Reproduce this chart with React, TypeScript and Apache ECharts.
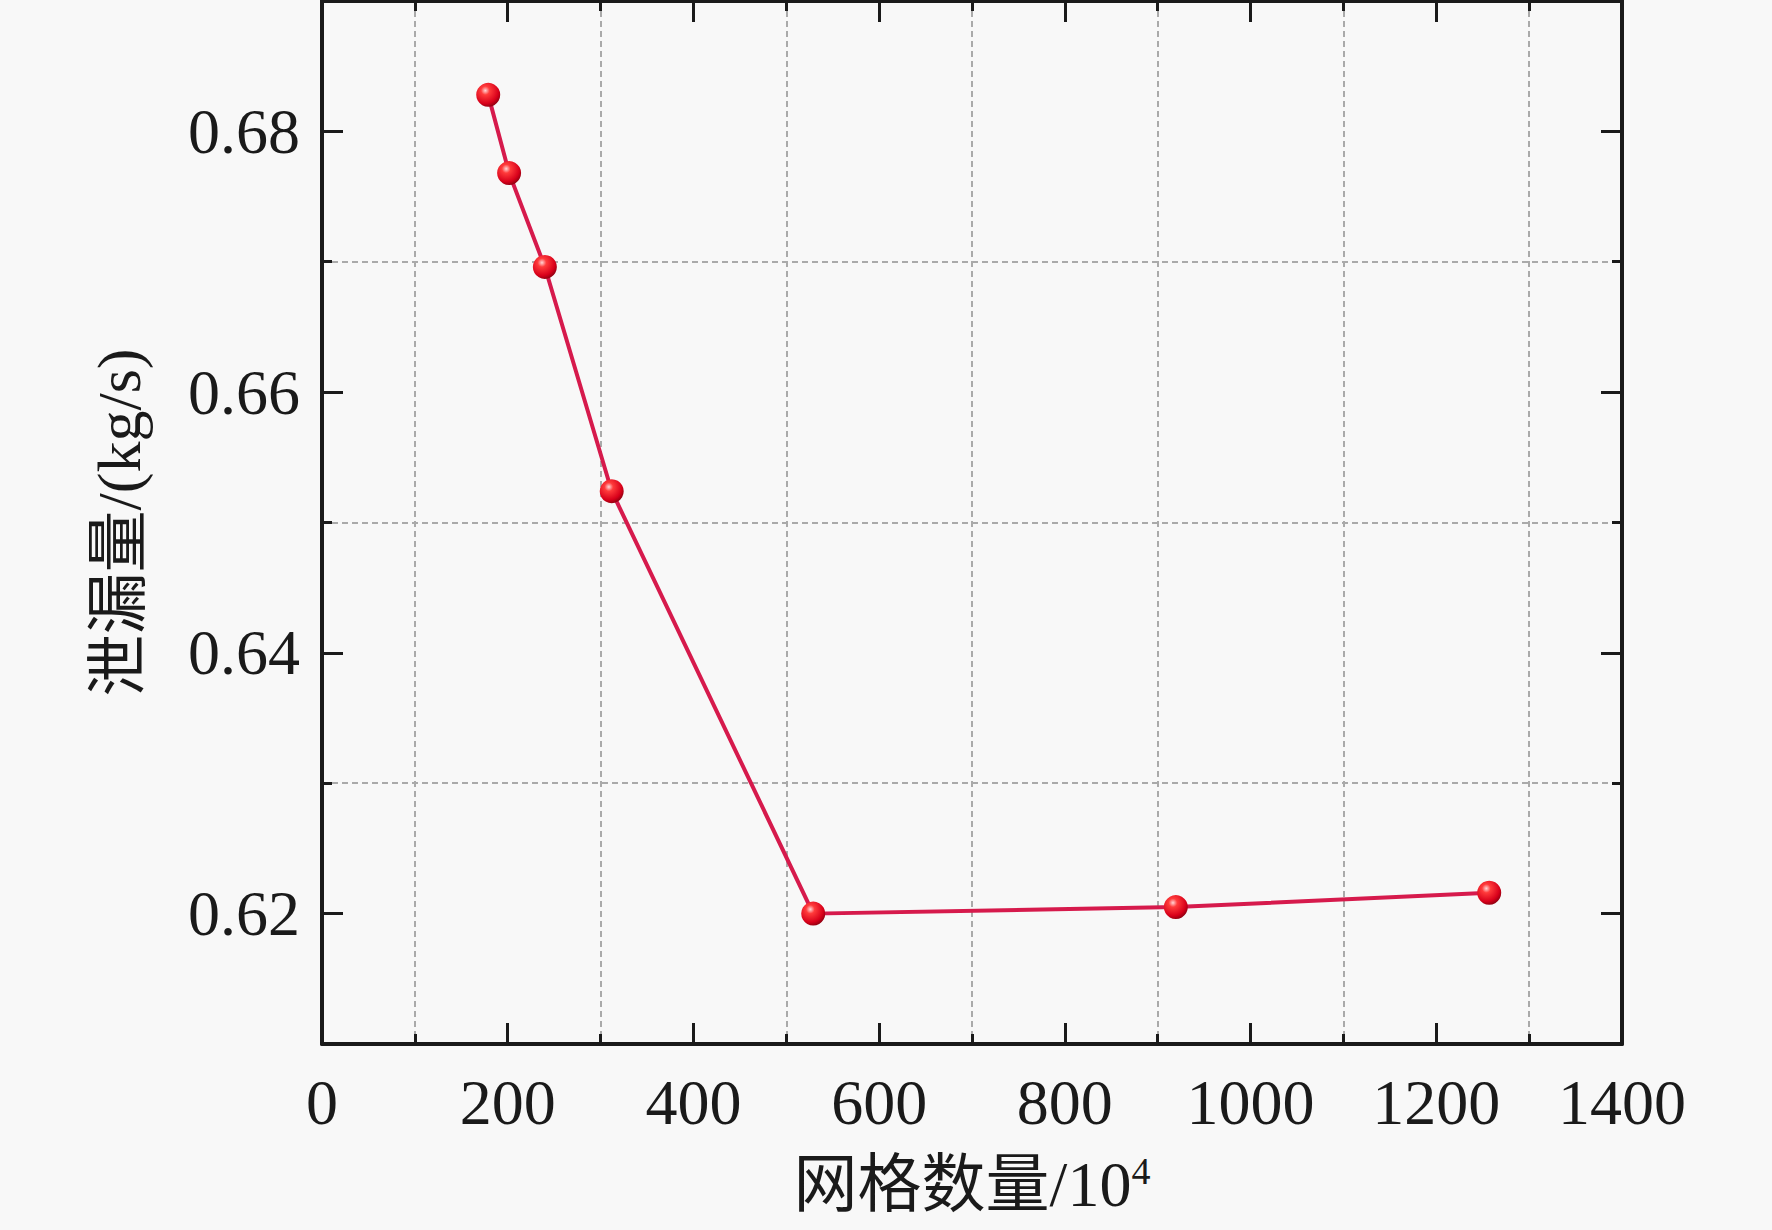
import React, { useEffect, useRef } from "react";
import * as echarts from "echarts";

const gridCounts = [179, 201.5, 240, 312, 529, 919.5, 1257];
const leakage = [0.6828, 0.6768, 0.6696, 0.6524, 0.62, 0.6205, 0.6216];
const xRange = [0, 1400];
const yRange = [0.61, 0.69];
const xTitle = "网格数量/10";
const xTitleSup = "4";
const yTitle = "泄漏量/(kg/s)";

const FONT = "'Liberation Serif', 'Noto Sans CJK SC', serif";
const INK = "#1a1a1a";

export default function App() {
  const ref = useRef<HTMLDivElement>(null);
  useEffect(() => {
    if (!ref.current) return;
    const chart = echarts.init(ref.current, undefined, { renderer: "svg" });
    const axisLine = { show: true, onZero: false, lineStyle: { color: INK, width: 4 } };
    const majorTick = { show: true, inside: true, length: 21, lineStyle: { color: INK, width: 3 } };
    const minorTick = { show: true, splitNumber: 2, length: 10, lineStyle: { color: INK, width: 3 } };
    const minorGrid = {
      show: true,
      lineStyle: { color: "#aaaaaa", width: 2, type: [6, 4] as any },
    };
    const data = gridCounts.map((x, i) => [x, leakage[i]]);
    chart.setOption({
      animation: false,
      backgroundColor: "#f8f8f8",
      grid: { left: 322, right: 150, top: 1, bottom: 186, containLabel: false },
      xAxis: [
        {
          type: "value",
          min: xRange[0],
          max: xRange[1],
          interval: 200,
          position: "bottom",
          axisLine,
          axisTick: majorTick,
          minorTick: { ...minorTick },
          splitLine: { show: false },
          minorSplitLine: minorGrid,
          axisLabel: {
            show: true,
            margin: 26,
            fontSize: 64,
            fontFamily: FONT,
            color: INK,
            formatter: (v: number) => String(v),
          },
          name: `{a|${xTitle}}{s|${xTitleSup}}`,
          nameLocation: "middle",
          nameGap: 108,
          nameTextStyle: {
            rich: {
              a: { fontSize: 64, fontFamily: FONT, color: INK },
              s: { fontSize: 38, fontFamily: FONT, color: INK, verticalAlign: "top" },
            },
          },
        },
        {
          type: "value",
          min: xRange[0],
          max: xRange[1],
          interval: 200,
          position: "top",
          axisLine,
          axisTick: majorTick,
          minorTick: { ...minorTick },
          splitLine: { show: false },
          axisLabel: { show: false },
        },
      ],
      yAxis: [
        {
          type: "value",
          min: yRange[0],
          max: yRange[1],
          splitNumber: 4,
          position: "left",
          axisLine,
          axisTick: majorTick,
          minorTick: { ...minorTick },
          splitLine: { show: false },
          minorSplitLine: minorGrid,
          axisLabel: {
            show: true,
            margin: 22,
            fontSize: 64,
            fontFamily: FONT,
            color: INK,
            showMinLabel: false,
            showMaxLabel: false,
            formatter: (v: number) => v.toFixed(2),
          },
          name: yTitle,
          nameLocation: "middle",
          nameGap: 172,
          nameTextStyle: { fontSize: 62, fontFamily: FONT, color: INK },
        },
        {
          type: "value",
          min: yRange[0],
          max: yRange[1],
          splitNumber: 4,
          position: "right",
          axisLine,
          axisTick: majorTick,
          minorTick: { ...minorTick },
          splitLine: { show: false },
          axisLabel: { show: false },
        },
      ],
      series: [
        {
          type: "line",
          xAxisIndex: 0,
          yAxisIndex: 0,
          data,
          symbol: "circle",
          symbolSize: 24,
          lineStyle: { color: "#d61a4c", width: 4 },
          itemStyle: {
            color: {
              type: "radial",
              x: 0.38,
              y: 0.32,
              r: 0.72,
              colorStops: [
                { offset: 0, color: "#ffd6d6" },
                { offset: 0.25, color: "#ff3b3b" },
                { offset: 0.75, color: "#d8001a" },
                { offset: 1, color: "#8a0010" },
              ],
            },
            borderWidth: 0,
          },
          z: 5,
        },
      ],
    });
    return () => chart.dispose();
  }, []);
  return (
    <div
      ref={ref}
      style={{ position: "fixed", left: 0, top: 0, width: "1772px", height: "1230px", background: "#f8f8f8" }}
    />
  );
}
